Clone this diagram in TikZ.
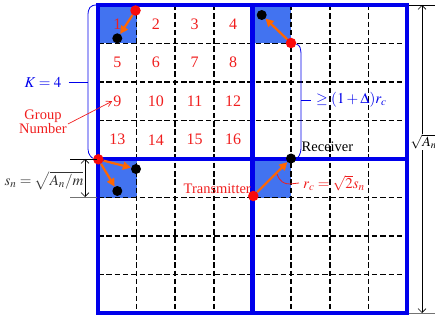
\documentclass[tikz,border=0pt]{standalone}
\usepackage{mathptmx}
\usepackage[no-math]{fontspec}
\setmainfont{Liberation Serif}
\usetikzlibrary{arrows.meta}
\definecolor{cellblue}{RGB}{66,115,240}
\definecolor{lineblue}{RGB}{0,0,235}
\definecolor{arroworange}{RGB}{255,102,0}
\definecolor{dotred}{RGB}{250,10,10}
\definecolor{numred}{RGB}{240,30,30}
\tikzset{
  thickline/.style={lineblue, line width=4.2pt},
  gridline/.style={black, line width=1.6pt, dash pattern=on 5.5pt off 2.8pt},
  txdot/.style={circle, fill=dotred, inner sep=0pt, minimum size=10.5pt},
  rxdot/.style={circle, fill=black, inner sep=0pt, minimum size=10pt},
  linkarrow/.style={arroworange, line width=2.2pt, -{Triangle[length=8pt,width=8pt]}},
  num/.style={text=numred, font=\fontsize{16}{18}\selectfont, inner sep=1pt},
  lbl/.style={font=\fontsize{14.5}{16}\selectfont, inner sep=0pt},
  mlbl/.style={font=\fontsize{15}{17}\selectfont, inner sep=0pt},
  bracketline/.style={lineblue, line width=0.8pt},
  dimarrow/.style={black, line width=0.6pt, {Straight Barb[length=4pt,width=8pt]}-{Straight Barb[length=4pt,width=8pt]}},
  dimline/.style={line width=0.6pt},
}
\begin{document}
\begin{tikzpicture}[x=1pt,y=-1pt]
\useasboundingbox (0,0) rectangle (435,320);
\def\cellw{38.625}
\def\cellh{38.5}
% blue cells
\foreach \i/\j in {0/0,4/0,0/4,4/4}
  \fill[cellblue] ({98+\cellw*\i},{5+\cellh*\j}) rectangle ({98+\cellw*(\i+1)},{5+\cellh*(\j+1)});
% dashed grid
\foreach \i in {1,2,3,5,6,7} {
  \draw[gridline] ({98+\cellw*\i},5) -- ({98+\cellw*\i},313);
  \draw[gridline] (98,{5+\cellh*\i}) -- (407,{5+\cellh*\i});
}
% thick lines
\draw[thickline] (98,5) rectangle (407,313);
\draw[thickline] (252.5,5) -- (252.5,313);
\draw[thickline] (98,159) -- (407,159);
% group numbers
\foreach \n in {1,...,16} {
  \pgfmathtruncatemacro\row{(\n-1)/4}
  \pgfmathtruncatemacro\col{mod(\n-1,4)}
  \node[num] (n\n) at ({98+\cellw*(\col+0.5)},{5+\cellh*(\row+0.5)}) {\n};
}
% labels
\node[lbl, text=numred, anchor=base east] (txl) at (251,193) {Transmitter};
\node[lbl, anchor=base west] (rxl) at (301.5,152) {Receiver};
\node[mlbl, text=lineblue] (kl) at (43,82) {$K=4$};
\node[lbl, text=numred, align=center, font=\fontsize{14.5}{10.5}\selectfont] (gn) at (43,122) {Group\\Number};
\node[mlbl, text=lineblue, anchor=west] (gl) at (316,100) {$\geq(1+\Delta)r_c$};
\node[mlbl, text=numred, anchor=west] (rcl) at (303,183) {$r_c=\sqrt{2}s_n$};
\node[mlbl, text=black!80] (sl) at (44,181) {$s_n=\sqrt{A_n/m}$};
% dots
\node[txdot] (t1) at (135.5,10.5) {};
\node[rxdot] (r1) at (117.3,38.3) {};
\node[txdot] (t2) at (291,43) {};
\node[rxdot] (r2) at (261.7,15) {};
\node[txdot] (t3) at (98.3,159.3) {};
\node[rxdot] (r3a) at (136,169) {};
\node[rxdot] (r3b) at (117.3,191) {};
\node[txdot] (t4) at (253.3,196) {};
\node[rxdot] (r4) at (291,158.5) {};
% brackets
\coordinate (qa) at (97,5);
\draw[bracketline] (qa) .. controls (90,5) and (88,8) .. (88,16) -- (88,149) .. controls (88,155) and (92,158) .. (t3);
\coordinate (kb) at (88,82);
\draw[bracketline] ([xshift=7pt]kl.east) -- (kb);
\draw[bracketline] (t2) .. controls (300,45) and (301,48) .. (301,56) -- (301,147) .. controls (301,155) and (298,158) .. (r4);
\coordinate (gb) at (301,100);
\draw[bracketline] (gb) -- ([xshift=-5pt]gl.west);
% group number pointer
\draw[numred, line width=0.7pt, -{Straight Barb[length=5pt,width=6pt]}] ([shift={(1pt,-2pt)}]gn.east) -- (n9.west);
% r_c pointer
\coordinate (rca) at (277,174);
\draw[numred, line width=0.8pt] (rca) .. controls (280,182) and (284,184) .. (290,184) -- ([xshift=-4pt]rcl.west);
% link arrows
\draw[linkarrow] (t1) -- (r1);
\draw[linkarrow] (t2) -- (r2);
\draw[linkarrow] (t3) -- (r3a);
\draw[linkarrow] (t3) -- (r3b);
\draw[linkarrow] (t4) -- (r4);
% left dimension
\coordinate (lda) at (70,159);
\coordinate (ldb) at (97,159);
\coordinate (ldc) at (70,197);
\coordinate (ldd) at (97,197);
\draw[dimline, black] (lda) -- (ldb);
\draw[dimline, black!55] (ldc) -- (ldd);
\coordinate (lde) at (85,159);
\coordinate (ldf) at (85,197);
\draw[dimarrow] (lde) -- (ldf);
% right dimension
\coordinate (rda) at (409,5);
\coordinate (rdb) at (435,5);
\coordinate (rdc) at (409,313);
\coordinate (rdd) at (435,313);
\draw[dimline, black] (rda) -- (rdb);
\draw[dimline, black!55] (rdc) -- (rdd);
\coordinate (rde) at (422,5);
\coordinate (rdf) at (422,313);
\draw[dimarrow] (rde) -- (rdf);
\node[font=\fontsize{14}{16}\selectfont, fill=white, inner sep=0.5pt, anchor=west] (al) at (410,142) {$\sqrt{A_n}$};
\end{tikzpicture}
\end{document}
